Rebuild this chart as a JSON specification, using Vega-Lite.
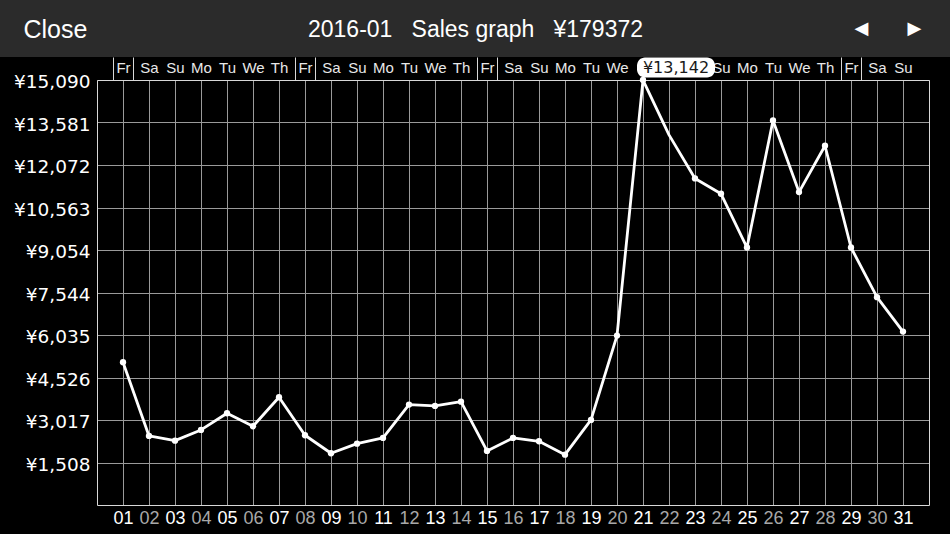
{
  "$schema": "https://vega.github.io/schema/vega-lite/v6.json",
  "width": 950,
  "height": 477,
  "autosize": {"type": "none"},
  "padding": {"left": 0, "top": 57, "right": 0, "bottom": 0},
  "background": "#2b2b2b",
  "config": {"view": {"stroke": null, "fill": "#000000"}},
  "datasets": {
    "sales": [
      {"day": 1, "sales": 5070}, {"day": 2, "sales": 2452}, {"day": 3, "sales": 2285},
      {"day": 4, "sales": 2665}, {"day": 5, "sales": 3258}, {"day": 6, "sales": 2796},
      {"day": 7, "sales": 3827}, {"day": 8, "sales": 2476}, {"day": 9, "sales": 1837},
      {"day": 10, "sales": 2178}, {"day": 11, "sales": 2381}, {"day": 12, "sales": 3564},
      {"day": 13, "sales": 3517}, {"day": 14, "sales": 3670}, {"day": 15, "sales": 1919},
      {"day": 16, "sales": 2381}, {"day": 17, "sales": 2263}, {"day": 18, "sales": 1787},
      {"day": 19, "sales": 3020}, {"day": 20, "sales": 6015}, {"day": 21, "sales": 15089},
      {"day": 22, "sales": 13142}, {"day": 23, "sales": 11594}, {"day": 24, "sales": 11050},
      {"day": 25, "sales": 9142}, {"day": 26, "sales": 13654}, {"day": 27, "sales": 11110},
      {"day": 28, "sales": 12755}, {"day": 29, "sales": 9142}, {"day": 30, "sales": 7380},
      {"day": 31, "sales": 6157}
    ],
    "tip": [{"day": 22, "label": "¥13,142"}]
  },
  "resolve": {"axis": {"x": "independent", "y": "independent"}},
  "layer": [
    {
      "data": {"name": "sales"},
      "mark": {"type": "line", "color": "#ffffff", "strokeWidth": 2.8, "strokeJoin": "round"},
      "encoding": {
        "x": {
          "field": "day", "type": "quantitative",
          "scale": {"domain": [0, 32], "range": [97, 929], "nice": false, "zero": false},
          "axis": {
            "orient": "bottom", "offset": -29,
            "values": [1,2,3,4,5,6,7,8,9,10,11,12,13,14,15,16,17,18,19,20,21,22,23,24,25,26,27,28,29,30,31],
            "format": "02d", "grid": false, "ticks": false, "tickSize": 0,
            "domain": true, "domainColor": "#d8d8d8", "domainWidth": 1,
            "labelFont": "Liberation Sans", "labelFontSize": 18, "labelBaseline": "alphabetic",
            "labelPadding": 18, "labelFlush": false, "labelOverlap": false, "labelBound": false,
            "labelColor": {"condition": {"test": "datum.value % 2 == 0", "value": "#a8a8a8"}, "value": "#ffffff"},
            "title": "2016-01\u00a0\u00a0\u00a0Sales graph\u00a0\u00a0\u00a0¥179372",
            "titleFont": "Liberation Sans", "titleFontSize": 23, "titleFontWeight": "normal",
            "titleColor": "#ffffff", "titleAngle": 0, "titleAlign": "center", "titleBaseline": "alphabetic",
            "titleX": 475, "titleY": -469
          }
        },
        "y": {
          "field": "sales", "type": "quantitative",
          "scale": {"domain": [0, 15090], "range": [448, 23], "nice": false, "zero": true},
          "axis": {
            "orient": "left", "offset": -97,
            "values": [1508, 3017, 4526, 6035, 7544, 9054, 10563, 12072, 13581, 15090],
            "labelExpr": "'¥' + format(datum.value, ',')",
            "grid": true, "gridColor": "#9a9a9a", "gridWidth": 1,
            "ticks": false, "tickSize": 0,
            "domain": true, "domainColor": "#d8d8d8", "domainWidth": 1,
            "labelFont": "DejaVu Sans", "labelFontSize": 18.5, "labelColor": "#ffffff",
            "labelPadding": 7, "labelOffset": 1.5, "labelOverlap": false, "labelFlush": false, "labelBound": false,
            "title": "Close",
            "titleFont": "Liberation Sans", "titleFontSize": 25, "titleFontWeight": "normal",
            "titleColor": "#ffffff", "titleAngle": 0, "titleAlign": "left", "titleBaseline": "alphabetic",
            "titleX": -74, "titleY": -20
          }
        }
      }
    },
    {
      "data": {"name": "sales"},
      "transform": [{"filter": "datum.day != 22"}],
      "mark": {"type": "circle", "color": "#ffffff", "opacity": 1, "size": 40},
      "encoding": {
        "x": {
          "field": "day", "type": "quantitative",
          "scale": {"domain": [0, 32], "range": [97, 929], "nice": false, "zero": false},
          "axis": {
            "orient": "top", "offset": -23,
            "values": [1,2,3,4,5,6,7,8,9,10,11,12,13,14,15,16,17,18,19,20,21,22,23,24,25,26,27,28,29,30,31],
            "labelExpr": "datum.value >= 21 && datum.value <= 23 ? '' : ['Fr','Sa','Su','Mo','Tu','We','Th'][(datum.value - 1) % 7]",
            "grid": true, "gridColor": "#9a9a9a", "gridWidth": 1,
            "ticks": false, "tickSize": 0,
            "domain": true, "domainColor": "#d8d8d8", "domainWidth": 1,
            "labelFont": "Liberation Sans", "labelFontSize": 15, "labelColor": "#e8e8e8",
            "labelBaseline": "alphabetic", "labelPadding": 8,
            "labelFlush": false, "labelOverlap": false, "labelBound": false,
            "title": null
          }
        },
        "y": {
          "field": "sales", "type": "quantitative",
          "scale": {"domain": [0, 15090], "range": [448, 23], "nice": false, "zero": true},
          "axis": {
            "orient": "right", "offset": -21,
            "grid": false, "ticks": false, "labels": false,
            "domain": true, "domainColor": "#d8d8d8", "domainWidth": 1,
            "title": "▶",
            "titleFont": "DejaVu Sans", "titleFontSize": 18, "titleFontWeight": "normal",
            "titleColor": "#ffffff", "titleAngle": 0, "titleAlign": "center", "titleBaseline": "middle",
            "titleX": -15, "titleY": -29
          }
        }
      }
    },
    {
      "data": {"name": "tip"},
      "mark": {
        "type": "point",
        "shape": "M-0.795,-0.256 L0.795,-0.256 A0.205,0.205 0 0 1 1,-0.051 L1,0.051 A0.205,0.205 0 0 1 0.795,0.256 L-0.795,0.256 A0.205,0.205 0 0 1 -1,0.051 L-1,-0.051 A0.205,0.205 0 0 1 -0.795,-0.256 Z",
        "filled": true, "fill": "#ffffff", "strokeWidth": 0, "opacity": 1, "size": 6084,
        "xOffset": 7, "yOffset": -12.5
      },
      "encoding": {
        "x": {
          "field": "day", "type": "quantitative",
          "scale": {"domain": [0, 32], "range": [97, 929], "nice": false, "zero": false},
          "axis": {
            "orient": "top", "offset": -23,
            "values": [0.6, 1.4, 7.6, 8.4, 14.6, 15.4, 28.6, 29.4],
            "labels": false, "domain": false, "grid": false,
            "ticks": true, "tickSize": 23, "tickColor": "#d8d8d8", "tickWidth": 1,
            "title": "◀",
            "titleFont": "DejaVu Sans", "titleFontSize": 18, "titleFontWeight": "normal",
            "titleColor": "#ffffff", "titleAngle": 0, "titleAlign": "center", "titleBaseline": "middle",
            "titleX": 861, "titleY": -52
          }
        },
        "y": {
          "datum": 15090, "type": "quantitative",
          "scale": {"domain": [0, 15090], "range": [448, 23], "nice": false, "zero": true},
          "axis": null
        }
      }
    },
    {
      "data": {"name": "tip"},
      "mark": {
        "type": "text", "font": "DejaVu Sans", "fontSize": 16, "color": "#1a1a1a",
        "align": "center", "baseline": "middle", "xOffset": 7, "yOffset": -12
      },
      "encoding": {
        "x": {
          "field": "day", "type": "quantitative",
          "scale": {"domain": [0, 32], "range": [97, 929], "nice": false, "zero": false},
          "axis": null
        },
        "y": {
          "datum": 15090, "type": "quantitative",
          "scale": {"domain": [0, 15090], "range": [448, 23], "nice": false, "zero": true},
          "axis": null
        },
        "text": {"field": "label"}
      }
    }
  ]
}
